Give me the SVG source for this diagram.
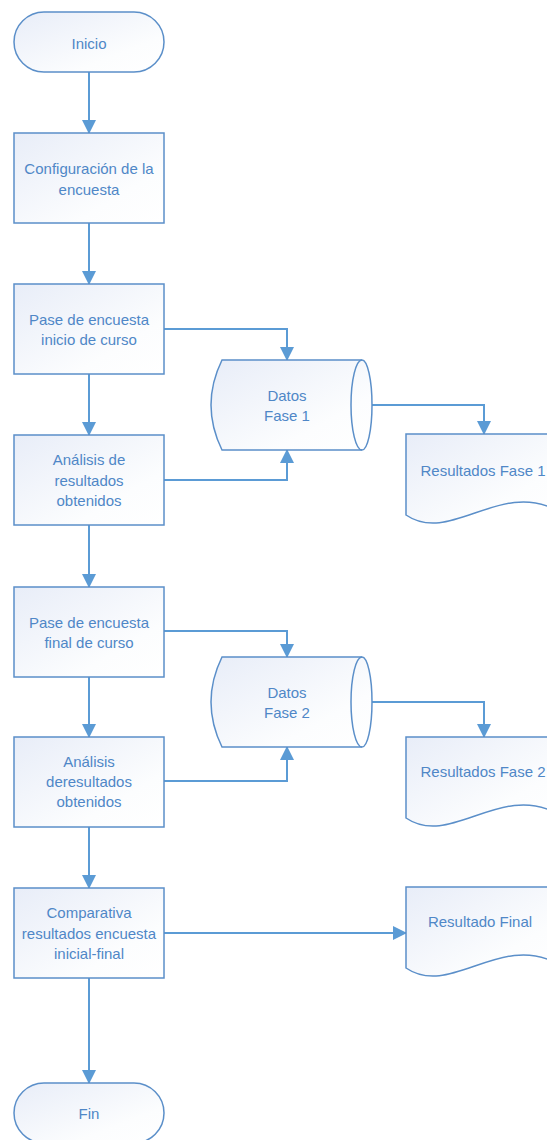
<svg xmlns="http://www.w3.org/2000/svg" width="547" height="1140" viewBox="0 0 547 1140">
<defs>
<linearGradient id="g" x1="0" y1="0" x2="1" y2="1">
<stop offset="0" stop-color="#E8EDF8"/>
<stop offset="0.7" stop-color="#FCFDFE"/>
<stop offset="1" stop-color="#FFFFFF"/>
</linearGradient>
<marker id="ah" markerWidth="14" markerHeight="14" refX="13" refY="7" orient="auto" markerUnits="userSpaceOnUse">
<path d="M0,0 L14,7 L0,14 Z" fill="#5B9BD5"/>
</marker>
<style>
.s{fill:url(#g);stroke:#5B8FC9;stroke-width:1.5}
.t{font-family:"Liberation Sans",Arial,sans-serif;font-size:15px;fill:#4F87C7;text-anchor:middle;dominant-baseline:central}
.c{fill:none;stroke:#5B9BD5;stroke-width:2;marker-end:url(#ah)}
</style>
</defs>
<rect width="547" height="1140" fill="#FFFFFF"/>
<g id="connectors">
<path class="c" d="M89,72 V133"/>
<path class="c" d="M89,223 V284"/>
<path class="c" d="M89,374 V435"/>
<path class="c" d="M89,525 V587"/>
<path class="c" d="M89,677 V737"/>
<path class="c" d="M89,827 V888"/>
<path class="c" d="M89,978 V1083"/>
<path class="c" d="M164,329 H287 V360"/>
<path class="c" d="M164,480 H287 V450"/>
<path class="c" d="M372,405 H484 V434"/>
<path class="c" d="M164,631 H287 V657"/>
<path class="c" d="M164,781 H287 V747"/>
<path class="c" d="M372,702 H484 V737"/>
<path class="c" d="M164,933 H406"/>
</g>
<g id="inicio">
<rect class="s" x="14" y="12" width="150" height="60" rx="30"/>
<text class="t" x="89" y="43">Inicio</text>
</g>
<g id="config">
<rect class="s" x="14" y="133" width="150" height="90"/>
<text class="t" x="89" y="168">Configuración de la</text>
<text class="t" x="89" y="189">encuesta</text>
</g>
<g id="pase1">
<rect class="s" x="14" y="284" width="150" height="90"/>
<text class="t" x="89" y="319">Pase de encuesta</text>
<text class="t" x="89" y="339">inicio de curso</text>
</g>
<g id="analisis1">
<rect class="s" x="14" y="435" width="150" height="90"/>
<text class="t" x="89" y="459">Análisis de</text>
<text class="t" x="89" y="480">resultados</text>
<text class="t" x="89" y="500">obtenidos</text>
</g>
<g id="datos1">
<path class="s" d="M222,360 H362 A10,45 0 0 1 362,450 H222 Q200,405 222,360 Z"/>
<path fill="none" stroke="#5B8FC9" stroke-width="1.5" d="M362,360 A11,45 0 0 0 362,450"/>
<text class="t" x="287" y="395">Datos</text>
<text class="t" x="287" y="415">Fase 1</text>
</g>
<g id="res1">
<path class="s" d="M406,434 H556 V510 C500,480 450,545 406,515 Z"/>
<text class="t" x="483" y="470">Resultados Fase 1</text>
</g>
<g id="pase2">
<rect class="s" x="14" y="587" width="150" height="90"/>
<text class="t" x="89" y="622">Pase de encuesta</text>
<text class="t" x="89" y="642">final de curso</text>
</g>
<g id="datos2">
<path class="s" d="M222,657 H362 A10,45 0 0 1 362,747 H222 Q200,702 222,657 Z"/>
<path fill="none" stroke="#5B8FC9" stroke-width="1.5" d="M362,657 A11,45 0 0 0 362,747"/>
<text class="t" x="287" y="692">Datos</text>
<text class="t" x="287" y="712">Fase 2</text>
</g>
<g id="analisis2">
<rect class="s" x="14" y="737" width="150" height="90"/>
<text class="t" x="89" y="761">Análisis</text>
<text class="t" x="89" y="781">deresultados</text>
<text class="t" x="89" y="801">obtenidos</text>
</g>
<g id="res2">
<path class="s" d="M406,737 H556 V813 C500,783 450,848 406,818 Z"/>
<text class="t" x="483" y="771">Resultados Fase 2</text>
</g>
<g id="comparativa">
<rect class="s" x="14" y="888" width="150" height="90"/>
<text class="t" x="89" y="912">Comparativa</text>
<text class="t" x="89" y="933">resultados encuesta</text>
<text class="t" x="89" y="953">inicial-final</text>
</g>
<g id="resfinal">
<path class="s" d="M406,887 H556 V963 C500,933 450,998 406,968 Z"/>
<text class="t" x="480" y="921">Resultado Final</text>
</g>
<g id="fin">
<rect class="s" x="14" y="1083" width="150" height="60" rx="30"/>
<text class="t" x="89" y="1113">Fin</text>
</g>
</svg>
